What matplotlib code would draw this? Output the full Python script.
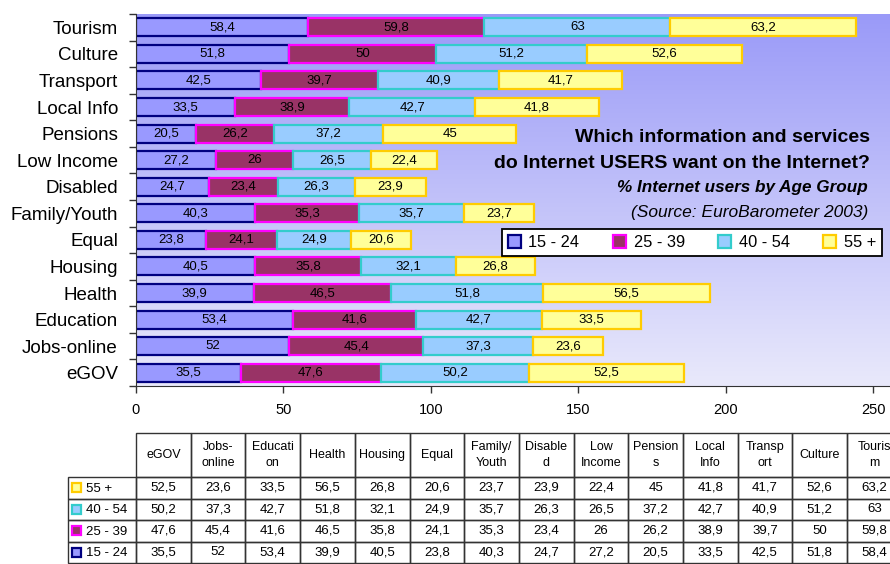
import matplotlib.pyplot as plt
import numpy as np
from matplotlib.colors import LinearSegmentedColormap
from matplotlib.patches import Rectangle

plt.rcParams["font.family"] = ["Liberation Sans", "DejaVu Sans"]

# categories bottom -> top (same order as the data table columns)
categories = ["eGOV", "Jobs-online", "Education", "Health", "Housing", "Equal",
              "Family/Youth", "Disabled", "Low Income", "Pensions", "Local Info",
              "Transport", "Culture", "Tourism"]
table_headers = ["eGOV", "Jobs-\nonline", "Educati\non", "Health", "Housing", "Equal",
                 "Family/\nYouth", "Disable\nd", "Low\nIncome", "Pension\ns", "Local\nInfo",
                 "Transp\nort", "Culture", "Touris\nm"]
groups = ["15 - 24", "25 - 39", "40 - 54", "55 +"]
age_15_24 = [35.5, 52, 53.4, 39.9, 40.5, 23.8, 40.3, 24.7, 27.2, 20.5, 33.5, 42.5, 51.8, 58.4]
age_25_39 = [47.6, 45.4, 41.6, 46.5, 35.8, 24.1, 35.3, 23.4, 26, 26.2, 38.9, 39.7, 50, 59.8]
age_40_54 = [50.2, 37.3, 42.7, 51.8, 32.1, 24.9, 35.7, 26.3, 26.5, 37.2, 42.7, 40.9, 51.2, 63]
age_55_up = [52.5, 23.6, 33.5, 56.5, 26.8, 20.6, 23.7, 23.9, 22.4, 45, 41.8, 41.7, 52.6, 63.2]

FILLS = ["#9999ff", "#993366", "#99ccff", "#ffff99"]
EDGES = ["#000080", "#ff00ff", "#33cccc", "#ffcc00"]
W, H = 890, 564


def fmt(v):
    return f"{v:g}".replace(".", ",")


series = [age_15_24, age_25_39, age_40_54, age_55_up]

fig = plt.figure(figsize=(W / 100, H / 100), dpi=100, facecolor="white")
ax = fig.add_axes([136 / W, 1 - 386 / H, (W - 136) / W, (386 - 14) / H])

# gradient plot-area background
cmap = LinearSegmentedColormap.from_list("bg", ["#e9e9fb", "#9a9af8"])
ax.imshow(np.linspace(0, 1, 256).reshape(-1, 1), cmap=cmap, aspect="auto",
          extent=(0, 1, 0, 1), transform=ax.transAxes, origin="lower", zorder=0)

y = np.arange(len(categories))
left = np.zeros(len(categories))
bars = []
for vals, fc, ec, lab in zip(series, FILLS, EDGES, groups):
    b = ax.barh(y, vals, left=left, height=0.68, color=fc, edgecolor=ec,
                linewidth=1.6, label=lab, zorder=2)
    for yi, l, v in zip(y, left, vals):
        ax.text(l + v / 2, yi, fmt(v), ha="center", va="center", fontsize=9.5,
                color="black", zorder=3)
    left = left + np.array(vals)
    bars.append(b)

xmax = (W - 136) / ((873 - 136) / 250)
ax.set_xlim(0, xmax)
ax.set_ylim(-0.5, len(categories) - 0.5)
ax.set_xticks([0, 50, 100, 150, 200, 250])
ax.tick_params(axis="x", length=5, width=1, color="#333333", labelsize=10.5, pad=7)
ax.set_yticks(y)
ax.set_yticklabels(categories, fontsize=13.5)
ax.set_yticks(np.arange(-0.5, len(categories)), minor=True)
ax.tick_params(axis="y", which="major", length=0, pad=13)
ax.tick_params(axis="y", which="minor", length=5, width=1, color="#333333")
for s in ("top", "right"):
    ax.spines[s].set_visible(False)
for s in ("left", "bottom"):
    ax.spines[s].set_color("#333333")

# title block
tx = 870 / W
fig.text(tx, 1 - 138 / H, "Which information and services", ha="right", va="center",
         fontsize=14, fontweight="bold")
fig.text(tx, 1 - 163 / H, "do Internet USERS want on the Internet?", ha="right",
         va="center", fontsize=14, fontweight="bold")
fig.text(868 / W, 1 - 188 / H, "% Internet users by Age Group", ha="right", va="center",
         fontsize=12.3, fontweight="bold", style="italic")
fig.text(868 / W, 1 - 212 / H, "(Source: EuroBarometer 2003)", ha="right", va="center",
         fontsize=12.5, style="italic")

leg = fig.legend(handles=bars, labels=groups, ncol=4, loc="center",
                 bbox_to_anchor=(692 / W, 1 - 242.5 / H), frameon=True, fancybox=False,
                 edgecolor="black", framealpha=1, fontsize=11.8, handlelength=0.8,
                 handleheight=0.8, handletextpad=0.45, columnspacing=2.05,
                 borderpad=0.35)
leg.get_frame().set_linewidth(1.3)

# data table below the chart
tab = fig.add_axes([0, 0, 1, 1])
tab.set_xlim(0, W)
tab.set_ylim(H, 0)
tab.axis("off")
col_w = 54.7
x0, lab_x0 = 136, 68
row_top = [477, 498.5, 520, 541.5]
row_h = 21.5
head_top = 433
lc = "#333333"
for i, hdr in enumerate(table_headers):
    cx = x0 + i * col_w
    tab.add_patch(Rectangle((cx, head_top), col_w, row_top[0] - head_top, fill=False,
                            edgecolor=lc, lw=1))
    tab.text(cx + col_w / 2, (head_top + row_top[0]) / 2, hdr, ha="center", va="center",
             fontsize=9, linespacing=1.5)
table_rows = list(zip(groups, FILLS, EDGES, series))[::-1]
for r, (g, fc, ec, vals) in enumerate(table_rows):
    ty = row_top[r]
    tab.add_patch(Rectangle((lab_x0, ty), x0 - lab_x0, row_h, fill=False, edgecolor=lc, lw=1))
    tab.add_patch(Rectangle((lab_x0 + 4, ty + 6), 9, 9, facecolor=fc, edgecolor=ec, lw=1.6))
    tab.text(lab_x0 + 18, ty + row_h / 2 + 1, g, ha="left", va="center", fontsize=9.5)
    for i, v in enumerate(vals):
        cx = x0 + i * col_w
        tab.add_patch(Rectangle((cx, ty), col_w, row_h, fill=False, edgecolor=lc, lw=1))
        tab.text(cx + col_w / 2, ty + row_h / 2, fmt(v), ha="center", va="center",
                 fontsize=9.5)

fig.savefig("out.png", dpi=100)
